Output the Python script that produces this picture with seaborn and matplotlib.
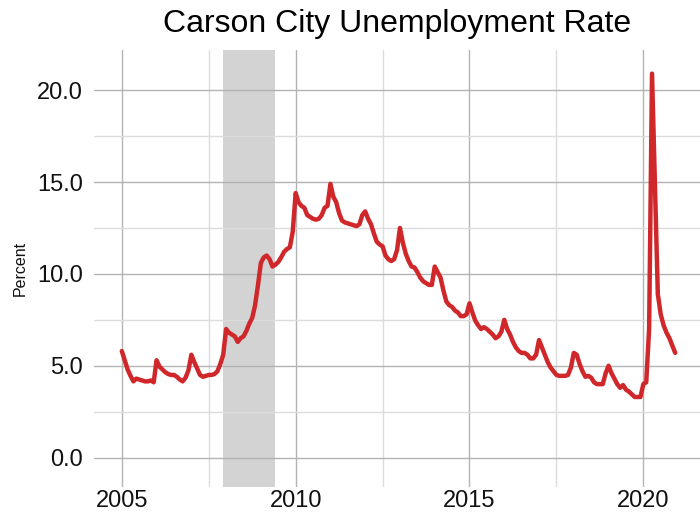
# carson city unemployment, monthly, 2005-2020
import matplotlib
matplotlib.use("Agg")
import matplotlib.pyplot as plt
import numpy as np
import pandas as pd
import seaborn as sns

START_YEAR = 2005

y2005 = [5.8, 5.3, 4.8, 4.45, 4.15, 4.3, 4.25, 4.2, 4.15, 4.15, 4.2, 4.1]
y2006 = [5.3, 4.95, 4.8, 4.65, 4.55, 4.5, 4.5, 4.4, 4.25, 4.15, 4.35, 4.75]
y2007 = [5.6, 5.2, 4.85, 4.5, 4.4, 4.45, 4.5, 4.5, 4.55, 4.7, 5.1, 5.6]
y2008 = [7.0, 6.8, 6.7, 6.6, 6.3, 6.5, 6.6, 6.9, 7.3, 7.6, 8.3, 9.4]
y2009 = [10.6, 10.9, 11.0, 10.8, 10.4, 10.5, 10.65, 10.9, 11.2, 11.35, 11.45, 12.3]
y2010 = [14.4, 13.9, 13.7, 13.6, 13.2, 13.1, 13.0, 12.95, 13.0, 13.2, 13.6, 13.7]
y2011 = [14.9, 14.2, 13.9, 13.3, 12.9, 12.8, 12.75, 12.7, 12.65, 12.6, 12.7, 13.2]
y2012 = [13.4, 13.0, 12.7, 12.2, 11.75, 11.6, 11.5, 11.0, 10.8, 10.7, 10.8, 11.3]
y2013 = [12.5, 11.7, 11.1, 10.7, 10.4, 10.35, 10.1, 9.8, 9.6, 9.5, 9.4, 9.4]
y2014 = [10.4, 10.1, 9.8, 9.1, 8.5, 8.3, 8.2, 8.0, 7.9, 7.7, 7.7, 7.8]
y2015 = [8.4, 7.9, 7.45, 7.2, 7.0, 7.1, 7.0, 6.85, 6.7, 6.5, 6.6, 6.85]
y2016 = [7.5, 7.0, 6.7, 6.3, 6.0, 5.8, 5.7, 5.7, 5.6, 5.4, 5.4, 5.6]
y2017 = [6.4, 6.0, 5.6, 5.2, 4.9, 4.7, 4.5, 4.45, 4.45, 4.45, 4.5, 4.9]
y2018 = [5.7, 5.6, 5.1, 4.7, 4.4, 4.45, 4.35, 4.1, 4.0, 4.0, 4.0, 4.6]
y2019 = [5.0, 4.6, 4.3, 4.0, 3.8, 3.95, 3.7, 3.6, 3.45, 3.3, 3.3, 3.3]
y2020 = [4.0, 4.1, 7.0, 20.9, 14.8, 8.9, 7.8, 7.2, 6.8, 6.5, 6.1, 5.7]

# great recession, dec 2007 - jun 2009
rec_start = 2007 + 11 / 12
rec_end = 2009 + 5 / 12

x_ticks = [2005, 2010, 2015, 2020]
y_ticks = [0, 5, 10, 15, 20]
y_labels = ["0.0", "5.0", "10.0", "15.0", "20.0"]

LINE = "#d0272b"


def main():
    rates = (y2005 + y2006 + y2007 + y2008 + y2009 + y2010 + y2011 + y2012
             + y2013 + y2014 + y2015 + y2016 + y2017 + y2018 + y2019 + y2020)
    df = pd.DataFrame({
        "year": START_YEAR + np.arange(len(rates)) / 12,
        "rate": rates,
    })

    sns.set_style("white")
    plt.rcParams["font.family"] = ["Liberation Sans", "DejaVu Sans"]

    fig = plt.figure(figsize=(7, 5.14), dpi=100)
    ax = fig.add_axes([94 / 700, 0.0525, 606 / 700, 0.85])

    ax.axvspan(rec_start, rec_end, color="#d3d3d3", lw=0, zorder=0.2)
    sns.lineplot(data=df, x="year", y="rate", ax=ax, color=LINE, lw=3.2,
                 solid_capstyle="round", solid_joinstyle="round", zorder=3)

    ax.set_xlim(2004.2, 2021.63)
    ax.set_ylim(-1.6, 22.18)
    ax.set_xticks(x_ticks)
    ax.set_xticks([2007.5, 2012.5, 2017.5], minor=True)
    ax.set_yticks(y_ticks)
    ax.set_yticklabels(y_labels)
    ax.set_yticks([2.5, 7.5, 12.5, 17.5], minor=True)

    ax.grid(which="major", color="#b3b3b3", lw=1.0, zorder=0.5)
    ax.grid(which="minor", color="#dcdcdc", lw=1.0, zorder=0.5)
    ax.set_axisbelow(True)
    for s in ax.spines.values():
        s.set_visible(False)

    ax.tick_params(axis="both", which="both", length=0, labelsize=17,
                   labelcolor="#111111")
    ax.tick_params(axis="y", pad=8)
    ax.tick_params(axis="x", pad=2)

    ax.set_xlabel("")
    ax.set_ylabel("Percent", fontsize=11.5, labelpad=7, color="#111111")
    fig.suptitle("Carson City Unemployment Rate", x=397 / 700, y=0.982,
                 fontsize=23, va="top", color="black")

    fig.savefig("out.png", dpi=100)
    plt.close(fig)


if __name__ == "__main__":
    main()
